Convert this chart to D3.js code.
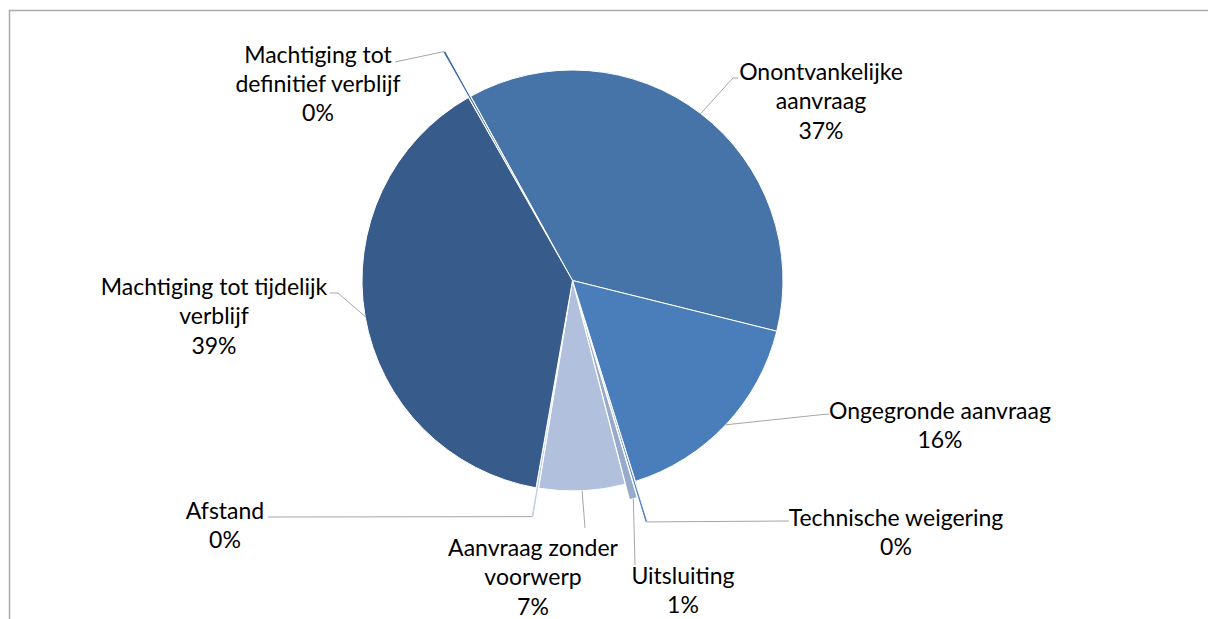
<!DOCTYPE html>
<html><head><meta charset="utf-8">
<script src="https://cdn.jsdelivr.net/npm/d3@7"></script>
<style>body{margin:0;background:#fff}svg{display:block}</style>
</head><body>
<svg id="c" width="1208" height="619"></svg>
<script>
// ---- data ----
const categories = ["Onontvankelijke aanvraag","Ongegronde aanvraag","Technische weigering","Uitsluiting","Aanvraag zonder voorwerp","Afstand","Machtiging tot tijdelijk verblijf","Machtiging tot definitief verblijf"];
const values = [36.9, 16.3, 0.2, 0.6, 6.6, 0.2, 39.0, 0.2];
const labelLines = [["Onontvankelijke","aanvraag"],["Ongegronde aanvraag"],["Technische weigering"],["Uitsluiting"],["Aanvraag zonder","voorwerp"],["Afstand"],["Machtiging tot tijdelijk","verblijf"],["Machtiging tot","definitief verblijf"]];

// ---- layout / style ----
const colors = ["#4674a9","#4a7ebb","#5585c4","#98aacb","#b1c1dd","#bccde6","#375b8a","#3c69a3"];
const explode = [0,0,42,16,0,29,0,52];
const labelPos = [[821,80],[940,419],[896,526],[683,584],[533,556],[225,519],[214,295],[318,62.5]];
const leaderPts = [[[738,78],[733,78]],[[829,414],[818,415]],[[789,521]],[[635,565]],[[585,528]],[[268,517]],[[330,293],[338,293]],[[395,62]]];
const cx = 572.5, cy = 280.5, R = 210.5;
const startDeg = -28.9;

const svg = d3.select("#c");
// frame
svg.append("rect").attr("x",9.5).attr("y",10.5).attr("width",1300).attr("height",700)
  .attr("fill","none").attr("stroke","#aaaaaa").attr("stroke-width",1.5);

const total = d3.sum(values);
const a0 = startDeg*Math.PI/180;
const pie = d3.pie().sort(null).startAngle(a0).endAngle(a0+2*Math.PI);
const arcs = pie(values);
const arc = d3.arc().innerRadius(0).outerRadius(R);

const g = svg.append("g").attr("transform",`translate(${cx},${cy})`);
g.selectAll("path").data(arcs).join("path")
  .attr("d",arc)
  .attr("transform",(d,i)=>{const m=(d.startAngle+d.endAngle)/2;return `translate(${explode[i]*Math.sin(m)},${-explode[i]*Math.cos(m)})`;})
  .attr("fill",(d,i)=>colors[i])
  .attr("stroke","#fff").attr("stroke-width",1).attr("stroke-linejoin","round");

// leader lines
arcs.forEach((d,i)=>{
  const m=(d.startAngle+d.endAngle)/2, rr=R+explode[i];
  const p=[cx+rr*Math.sin(m), cy-rr*Math.cos(m)];
  const pts=leaderPts[i].concat([p]);
  svg.append("path").attr("d",d3.line()(pts)).attr("fill","none")
    .attr("stroke","#a6a6a6").attr("stroke-width",1);
});

// labels
const fmt = v => Math.round(v/total*100)+"%";
arcs.forEach((d,i)=>{
  const lines = labelLines[i].concat([fmt(values[i])]);
  const t = svg.append("text").attr("text-anchor","middle")
    .attr("font-family","Lato, 'Open Sans', sans-serif").attr("font-size",23).attr("fill","#000");
  lines.forEach((s,k)=>{
    t.append("tspan").attr("x",labelPos[i][0]).attr("y",labelPos[i][1]+k*29.3).text(s);
  });
});
</script>
</body></html>
